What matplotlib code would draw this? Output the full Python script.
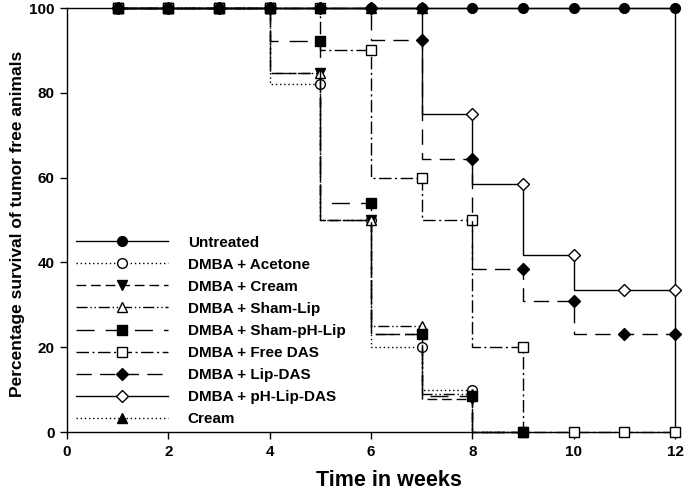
import matplotlib
matplotlib.use("Agg")
import matplotlib.pyplot as plt

plt.rcParams['font.family'] = ['Liberation Sans', 'DejaVu Sans']
plt.rcParams['font.weight'] = 'bold'

weeks = [1, 2, 3, 4, 5, 6, 7, 8, 9, 10, 11, 12]

untreated = [100, 100, 100, 100, 100, 100, 100, 100, 100, 100, 100, 100]
dmba_acetone = [100, 100, 100, 100, 82, 50, 20, 10, 0]
dmba_cream = [100, 100, 100, 100, 84.6, 50, 23, 7.7, 0]
dmba_sham_lip = [100, 100, 100, 100, 84.6, 50, 25, 9, 0]
dmba_sham_ph_lip = [100, 100, 100, 100, 92.3, 54, 23, 8.5, 0]
dmba_free_das = [100, 100, 100, 100, 100, 90, 60, 50, 20, 0, 0, 0]
dmba_lip_das = [100, 100, 100, 100, 100, 100, 92.5, 64.3, 38.5, 30.8, 23, 23]
dmba_ph_lip_das = [100, 100, 100, 100, 100, 100, 100, 75, 58.4, 41.7, 33.4, 33.4]
cream = [100, 100, 100, 100, 100, 100, 100]

labels = ["Untreated", "DMBA + Acetone", "DMBA + Cream", "DMBA + Sham-Lip",
          "DMBA + Sham-pH-Lip", "DMBA + Free DAS", "DMBA + Lip-DAS",
          "DMBA + pH-Lip-DAS", "Cream"]
x_ticks = [0, 2, 4, 6, 8, 10, 12]
y_ticks = [0, 20, 40, 60, 80, 100]

series = [untreated, dmba_acetone, dmba_cream, dmba_sham_lip, dmba_sham_ph_lip,
          dmba_free_das, dmba_lip_das, dmba_ph_lip_das, cream]

styles = [
    dict(ls='-', marker='o', mfc='black'),
    dict(ls=(0, (1, 2)), marker='o', mfc='white'),
    dict(ls=(0, (7, 3.5)), marker='v', mfc='black'),
    dict(ls=(0, (8, 2, 1, 2, 1, 2)), marker='^', mfc='white'),
    dict(ls=(0, (13, 8)), marker='s', mfc='black'),
    dict(ls=(0, (9, 2.5, 1.5, 2.5)), marker='s', mfc='white'),
    dict(ls=(0, (11, 6)), marker='D', mfc='black'),
    dict(ls='-', marker='D', mfc='white'),
    dict(ls=(0, (1, 2)), marker='^', mfc='black'),
]
msizes = [7, 7, 7, 7, 6.5, 6.5, 6, 6, 7]

fig = plt.figure(figsize=(6.85, 4.93), dpi=100)
ax = fig.add_axes([67/685, 1-432/493, (675-67)/685, (432-8)/493])

for i, (vals, st, lab) in enumerate(zip(series, styles, labels)):
    ax.plot(weeks[:len(vals)], vals, drawstyle='steps-pre', color='black',
            lw=1.0, linestyle=st['ls'], marker=st['marker'], mfc=st['mfc'],
            mec='black', mew=1.0, ms=msizes[i], label=lab, clip_on=False,
            zorder=10 if i == 0 else 3 + i * 0.1)

ax.set_xlim(0, 12)
ax.set_ylim(0, 100)
ax.set_xticks(x_ticks)
ax.set_yticks(y_ticks)
ax.tick_params(direction='out', length=5, width=1, labelsize=11, pad=4)
for lab in ax.get_xticklabels() + ax.get_yticklabels():
    lab.set_fontweight('bold')
for sp in ax.spines.values():
    sp.set_linewidth(1.0)

ax.set_xlabel("Time in weeks", fontsize=15.5, fontweight='bold', labelpad=8)
ax.xaxis.label.set_x(0.53)
ax.set_ylabel("Percentage survival of tumor free animals", fontsize=12.5,
              fontweight='bold', labelpad=3)
ax.yaxis.label.set_y(0.49)

leg = ax.legend(loc='upper left', bbox_to_anchor=(0.0, 0.485), frameon=False,
                handlelength=6.0, handletextpad=1.3, labelspacing=0.53,
                prop=dict(size=11, weight='bold'), borderaxespad=0.2,
                numpoints=1)

fig.savefig("out.png", dpi=100)
